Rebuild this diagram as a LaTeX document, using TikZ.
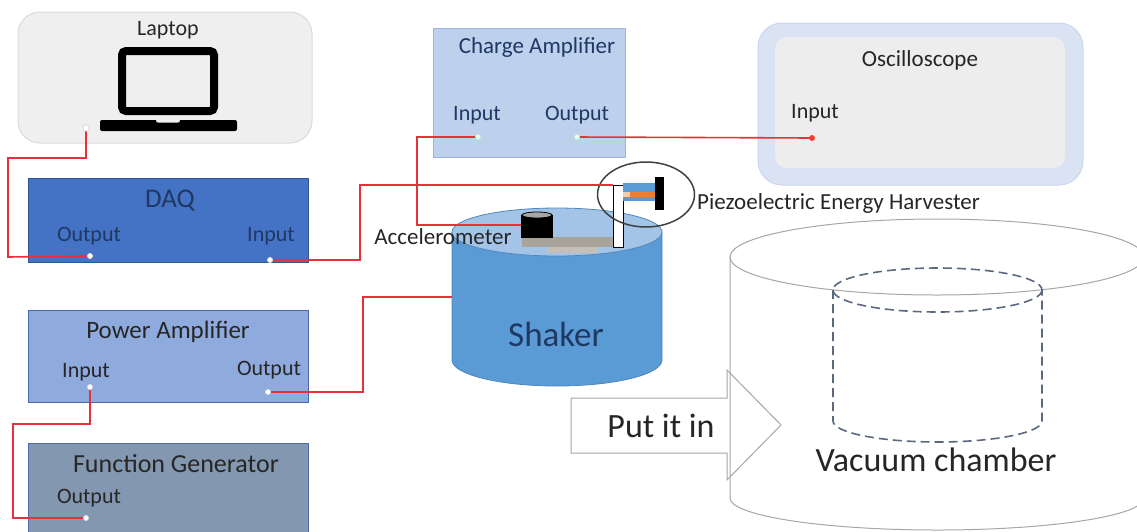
\documentclass[tikz,border=0pt]{standalone}
\usepackage{fontspec}
\setmainfont{Carlito}
\usetikzlibrary{calc,shapes.geometric}

\definecolor{lapfill}{HTML}{EFEFEF}
\definecolor{lapdraw}{HTML}{DADADA}
\definecolor{daqfill}{HTML}{4472C4}
\definecolor{daqdraw}{HTML}{2F5597}
\definecolor{pafill}{HTML}{8FAADC}
\definecolor{fgfill}{HTML}{8497B0}
\definecolor{boxdraw}{HTML}{4A6AA8}
\definecolor{cafill}{HTML}{BDD0EC}
\definecolor{cadraw}{HTML}{9FB4D8}
\definecolor{oscout}{HTML}{DAE3F3}
\definecolor{oscedge}{HTML}{CCD6EA}
\definecolor{oscin}{HTML}{EDEDED}
\definecolor{wirecol}{HTML}{E8303C}
\definecolor{navy}{HTML}{1F3864}
\definecolor{txt}{HTML}{262626}
\definecolor{shside}{HTML}{5B9BD5}
\definecolor{shtop}{HTML}{A3C4E6}
\definecolor{shline}{HTML}{4F86BE}
\definecolor{dashcol}{HTML}{5A6880}
\definecolor{chamber}{HTML}{A6A6A6}
\definecolor{plate}{HTML}{A8A49C}
\definecolor{plate2}{HTML}{C4C0B8}
\definecolor{piezoor}{HTML}{ED7D31}
\definecolor{piezolt}{HTML}{F8CBAD}

\newcommand\fsz[1]{\fontsize{#1}{#1}\selectfont}

\tikzset{
  unitbox/.style={rectangle, inner sep=0pt, line width=1pt},
  lbl/.style={inner sep=0pt, text=txt},
  port/.style={circle, inner sep=0pt, minimum size=6pt, fill=white, draw=lapdraw, line width=0.6pt},
  wire/.style={draw=wirecol, line width=1.6pt},
  cyl/.style={draw=chamber, line width=1pt},
  inner/.style={draw=dashcol, line width=1.6pt, dash pattern=on 9pt off 5pt}
}

\begin{document}
\begin{tikzpicture}[x=1pt,y=-1pt]
\useasboundingbox (0,0) rectangle (1137,531);
\clip (0,0) rectangle (1137,531);

% ---------- instrument boxes ----------
\node[unitbox, draw=lapdraw, fill=lapfill, rounded corners=22pt,
      minimum width=294pt, minimum height=131pt] (laptop) at (165,77.5) {};
\node[lbl, font=\fsz{22}] (laptoptxt) at (168,30) {Laptop};
% laptop icon
\draw[line width=8pt, rounded corners=4pt] (122,51) rectangle (214,111);
\fill[rounded corners=2pt] (100,120) rectangle (237,131);
\fill[lapfill, rounded corners=2pt] (156,119) rectangle (180,122.5);

\node[unitbox, draw=daqdraw, fill=daqfill, minimum width=280pt, minimum height=84pt] (daq) at (168,220) {};
\node[lbl, text=navy, font=\fsz{27}] (daqtxt) at (170,201) {DAQ};
\node[lbl, text=navy, font=\fsz{22}] (daqouttxt) at (89,236) {Output};
\node[lbl, text=navy, font=\fsz{22}] (daqintxt) at (271,236) {Input};

\node[unitbox, draw=boxdraw, fill=pafill, minimum width=280pt, minimum height=92pt] (pa) at (168,356) {};
\node[lbl, font=\fsz{25}] (patxt) at (168,332) {Power Amplifier};
\node[lbl, font=\fsz{22}] (paintxt) at (86,372) {Input};
\node[lbl, font=\fsz{22}] (paouttxt) at (269,370) {Output};

\node[unitbox, draw=boxdraw, fill=fgfill, minimum width=280pt, minimum height=100pt] (fg) at (168,493) {};
\node[lbl, font=\fsz{26}] (fgtxt) at (176,464) {Function Generator};
\node[lbl, font=\fsz{22}] (fgouttxt) at (89,498) {Output};

\node[unitbox, draw=cadraw, fill=cafill, minimum width=192pt, minimum height=129pt] (ca) at (529,92.5) {};
\node[lbl, text=navy, font=\fsz{23}] (catxt) at (537,47) {Charge Amplifier};
\node[lbl, text=navy, font=\fsz{22}] (caintxt) at (477,115) {Input};
\node[lbl, text=navy, font=\fsz{22}] (caouttxt) at (577,115) {Output};

\node[unitbox, draw=oscedge, fill=oscout, rounded corners=24pt,
      minimum width=325pt, minimum height=162pt] (osc) at (920.5,104) {};
\node[unitbox, fill=oscin, rounded corners=12pt,
      minimum width=290pt, minimum height=131pt] (oscscreen) at (920,102.5) {};
\node[lbl, font=\fsz{23}] (osctxt) at (920,60) {Oscilloscope};
\node[lbl, font=\fsz{22}] (oscintxt) at (815,113) {Input};

% ---------- shaker ----------
\fill[shside] (452,232) -- (452,360)
  arc[start angle=180, end angle=0, x radius=105, y radius=26]
  -- (662,232)
  arc[start angle=0, end angle=180, x radius=105, y radius=24] -- cycle;
\draw[shline, line width=0.8pt] (452,232) -- (452,360)
  arc[start angle=180, end angle=0, x radius=105, y radius=26] -- (662,232);
\filldraw[fill=shtop, draw=shline, line width=0.8pt] (557,232) ellipse[x radius=105, y radius=24];
\node[inner sep=0pt, text=navy, font=\fsz{35}] (shaker) at (556,334) {Shaker};

% mounting plates, accelerometer and post on the shaker table
\fill[plate] (522,237) rectangle (613,247);
\fill[plate2] (547,247) rectangle (597,253);
\node[unitbox, fill=black, minimum width=32pt, minimum height=23pt] (accel) at (537,226) {};
\filldraw[fill=gray!70, draw=black, line width=0.8pt] (537,215) ellipse[x radius=15, y radius=3];
\node[unitbox, draw=black, fill=white, line width=0.8pt, minimum width=10pt, minimum height=62pt] (post) at (618,216) {};

% piezoelectric cantilever with its clamp
\fill[shside] (623,183) rectangle (658,201);
\fill[piezoor] (623,192) rectangle (658,197);
\fill[piezolt] (623,192) rectangle (630,197);
\fill[black] (655,177) rectangle (664,210);
\node[ellipse, draw=black!75, line width=1.5pt, minimum width=97pt, minimum height=65pt, inner sep=0pt] (piezo) at (646,194.5) {};
\node[lbl, anchor=west, font=\fsz{23}] (piezotxt) at (697,203) {Piezoelectric Energy Harvester};
\node[lbl, font=\fsz{23}] (acceltxt) at (443,237) {Accelerometer};

% ---------- ports ----------
\node[port] (lapport) at (86,128) {};
\node[port, minimum size=5pt] (daqout) at (90,256) {};
\node[port, minimum size=5pt] (daqin) at (270,260) {};
\node[port, minimum size=5pt] (pain) at (90,387) {};
\node[port, minimum size=5pt] (paout) at (268,392) {};
\node[port, minimum size=5pt] (fgout) at (86,518) {};
\node[port, minimum size=5pt] (cain) at (478,137) {};
\node[port, minimum size=5pt] (caout) at (577,137) {};
\coordinate (oscin) at (812,138);
\coordinate (postin) at (613,185);
\coordinate (accelin) at (521,225);
\coordinate (shakerin) at (452,297);

% ---------- wiring ----------
\draw[wire] (lapport) -- (86,158) -- (8,158) -- (8,257) -- (daqout);
\draw[wire] (daqin) -- (360,260) -- (360,185) -- (postin);
\draw[wire] (paout) -- (363,392) -- (363,297) -- (shakerin);
\draw[wire] (pain) -- (90,424) -- (13,424) -- (13,518) -- (fgout);
\draw[wire] (cain) -- (417,137) -- (417,225) -- (accelin);
\draw[wire] (caout) -- (oscin);
\fill[wirecol!80!orange] (oscin) circle[radius=3];
\node[port, minimum size=5pt] at (daqout) {};
\node[port, minimum size=5pt] at (daqin) {};
\node[port, minimum size=5pt] at (pain) {};
\node[port, minimum size=5pt] at (paout) {};
\node[port, minimum size=5pt] at (fgout) {};
\node[port, minimum size=5pt] at (cain) {};
\node[port, minimum size=5pt] at (caout) {};
\node[port] at (lapport) {};

% ---------- "put it in" arrow ----------
\filldraw[fill=white, draw=chamber, line width=1pt]
  (571,398) -- (727,398) -- (727,370) -- (781,425) -- (727,480) -- (727,453) -- (571,453) -- cycle;
\node[lbl, font=\fsz{34}] (putin) at (661,426) {Put it in};

% ---------- vacuum chamber ----------
\draw[cyl] (730,257) -- (730,498)
  arc[start angle=180, end angle=0, x radius=207, y radius=32];
\draw[cyl] (937,257) ellipse[x radius=207, y radius=38];
\draw[inner] (937.5,290) ellipse[x radius=104.5, y radius=22];
\draw[inner] (833,290) -- (833,421)
  arc[start angle=180, end angle=0, x radius=104.5, y radius=21] -- (1042,290);
\node[lbl, font=\fsz{34}] (vactxt) at (936,460) {Vacuum chamber};
\end{tikzpicture}
\end{document}
